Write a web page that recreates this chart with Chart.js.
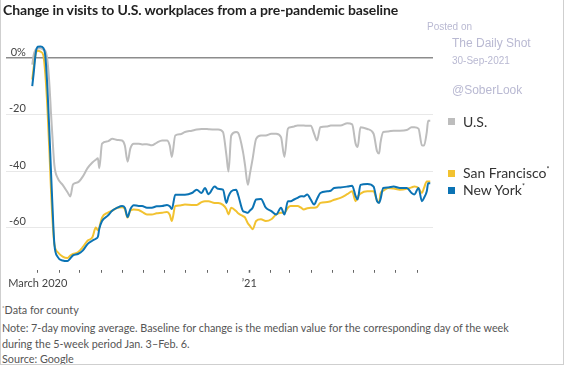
<!DOCTYPE html>
<html>
<head>
<meta charset="utf-8">
<script src="https://cdn.jsdelivr.net/npm/chart.js@4.4.0/dist/chart.umd.min.js"></script>
<style>
  body { margin: 0; background: #fff; overflow: hidden; }
  #wrap { position: relative; width: 564px; height: 365px; font-family: Lato, sans-serif; }
  #frame { position: absolute; inset: 0; border: 1px solid #cfcfcf; border-top: none; pointer-events: none; }
  #chartBox { position: absolute; left: 0; top: 0; width: 564px; height: 300px; }
  .abs { position: absolute; white-space: nowrap; }
  #title { left: 3px; top: 0; font-size: 14px; font-weight: 700; line-height: 20px; color: #222; letter-spacing: -0.12px; }
  .mark { font-family: "Liberation Sans", Arial, sans-serif; color: #b9b9d2; }
  .key { width: 7px; height: 7px; }
  .keyText { font-size: 14px; line-height: 18px; color: #333; }
  .keyText span { font-size: 7px; position: relative; top: -6px; }
  #notes { left: 2px; top: 302px; font-size: 10.8px; line-height: 15.8px; color: #555; }
  #notes span { font-size: 6px; position: relative; top: -4px; }
</style>
</head>
<body>
<div id="wrap">
  <div id="chartBox"><canvas id="visitsChart"></canvas></div>
  <div class="abs" id="title">Change in visits to U.S. workplaces from a pre-pandemic baseline</div>

  <div class="abs mark" style="left:427px; top:21px; font-size:10px; line-height:12px;">Posted on</div>
  <div class="abs mark" style="left:452px; top:36px; font-size:12px; line-height:14px;">The Daily Shot</div>
  <div class="abs mark" style="left:452px; top:55px; font-size:10px; line-height:12px;">30-Sep-2021</div>
  <div class="abs mark" style="left:452px; top:83px; font-size:12px; line-height:14px;">@SoberLook</div>

  <div class="abs key" style="left:448px; top:118px; background:#bdbdbd;"></div>
  <div class="abs keyText" style="left:463px; top:112.5px;">U.S.</div>
  <div class="abs key" style="left:448px; top:169.5px; background:#f2c230;"></div>
  <div class="abs keyText" style="left:463px; top:163.5px;">San Francisco<span>*</span></div>
  <div class="abs key" style="left:448px; top:187px; background:#0b73b4;"></div>
  <div class="abs keyText" style="left:463px; top:181px;">New York<span>*</span></div>

  <div class="abs" id="notes"><span>*</span>Data for county<br>Note: 7-day moving average. Baseline for change is the median value for the corresponding day of the week<br>during the 5-week period Jan. 3–Feb. 6.<br>Source: Google</div>
  <div id="frame"></div>
</div>

<script>
// days since March 1, 2020
const days = [
  -8, -6, -3, 0, 4, 8, 11, 14, 17, 19,
  21, 24, 29, 36, 43, 47, 51, 58, 65, 72,
  79, 84, 87, 89, 93, 101, 108, 115, 122, 126,
  130, 134, 139, 146, 151, 158, 165, 172, 180, 187,
  191, 194, 199, 206, 213, 223, 230, 237, 242, 247,
  256, 261, 268, 273, 276, 280, 287, 290, 297, 300,
  304, 307, 311, 316, 323, 330, 338, 345, 352, 357,
  362, 366, 371, 376, 381, 385, 390, 395, 400, 404,
  409, 419, 424, 429, 438, 448, 455, 460, 463, 467,
  477, 486, 491, 494, 496, 500, 507, 515, 524, 534,
  541, 545, 551, 556, 559, 563, 565, 568
];

const usValues = [
  -2.3, 1.0, 3.0, 3.4, 3.5, 3.0, 2.5, -1, -10, -19,
  -27, -37.9, -42.6, -44.9, -47.5, -49, -44.7, -44, -42, -39,
  -37, -36, -35.5, -39, -30.3, -29.5, -28.6, -29, -29.2, -31,
  -36.7, -32, -30.3, -30.3, -30.6, -30.5, -30.9, -30, -29.2, -29.2,
  -31, -35, -27.4, -27, -26.2, -25.7, -25.3, -25.1, -25.1, -25.2,
  -25.3, -25.3, -26.2, -34.4, -40.2, -27.4, -26.2, -26.5, -33.2, -38,
  -44.9, -41, -35.6, -28.6, -27.4, -27.4, -26.8, -26.8, -28, -35,
  -25, -24.5, -24.2, -23.9, -23.9, -23.9, -24, -24, -26.8, -29.2,
  -24.5, -24.2, -23.9, -23.9, -23.9, -23.1, -23.5, -30.3, -31.5, -24.5,
  -25.1, -26.8, -33, -33.8, -30, -26.2, -26, -25.7, -25.7, -25.5,
  -24.5, -24.5, -25, -30.9, -31, -26.2, -22.2, -22.2
];

const sfValues = [
  -7.6, -3.5, 1.5, 2.6, 2.3, 1.0, -6, -18, -34, -46,
  -56, -65.9, -68.8, -70.3, -70.8, -70, -69.4, -68.8, -67, -64.7,
  -63.5, -60, -61, -60, -56.5, -54.8, -54, -53, -52.8, -53.5,
  -56.5, -54, -53.6, -53.8, -54.5, -55.4, -55.4, -55, -54.8, -54.5,
  -55.5, -57.7, -52.4, -52.2, -51.9, -52, -52, -51, -50.7, -50.7,
  -51.3, -51.3, -52, -53.5, -55.4, -53, -54.2, -55, -56, -56.5,
  -58.5, -59.4, -60.6, -57.7, -57.1, -57.7, -57.1, -55.4, -54.8, -54.8,
  -53, -52.4, -52.4, -52.4, -53, -53.6, -53.2, -53, -53, -52.8,
  -51.3, -51, -50.7, -50.2, -49.5, -48.2, -47.2, -50.7, -49, -48,
  -47.2, -47.2, -50.5, -51.2, -48, -47, -46, -46.2, -46.6, -46.3,
  -45.8, -45.5, -46, -47.8, -46, -43.7, -43.7, -43.7
];

const nyValues = [
  -9.9, -5.5, 1.8, 4.0, 4.1, 3.6, 0.5, -11, -27.4, -39.5,
  -51, -65.9, -70.5, -71.7, -71.9, -71, -69.9, -69.4, -68.2, -65.9,
  -64.7, -64, -63.3, -60.5, -57.7, -55.9, -54, -53, -52.4, -53,
  -56.3, -53.5, -52.1, -52.4, -52.4, -53, -53, -52.5, -52.4, -52,
  -52.5, -53.5, -48.4, -48.4, -48.4, -47.8, -46.6, -47.8, -46, -48.2,
  -45.5, -46.3, -46.6, -51.3, -49, -47.2, -46.6, -48.5, -54.2, -54.5,
  -54.8, -54, -53, -50.1, -49.9, -53, -54.2, -55.4, -53, -55.4,
  -50.7, -50.7, -50.1, -49.5, -48.9, -49, -48.3, -50.1, -51.9, -50,
  -47.8, -47.2, -47, -46, -45.8, -45.5, -45.2, -48.9, -50.1, -44.9,
  -44.6, -45.5, -50.7, -51.3, -50, -46, -45.8, -45.5, -46, -46,
  -47.8, -48.3, -46, -50.7, -49.5, -47.2, -44.3, -44.3
];

const tickDates = [
  '2020-03-01', '2020-04-01', '2020-05-01', '2020-06-01', '2020-07-01',
  '2020-08-01', '2020-09-01', '2020-10-01', '2020-11-01', '2020-12-01',
  '2021-01-01', '2021-02-01', '2021-03-01', '2021-04-01', '2021-05-01',
  '2021-06-01', '2021-07-01', '2021-08-01', '2021-09-01'
];
const tickLabels = ['March 2020', '', '', '', '', '', '', '', '', '', '\u201921', '', '', '', '', '', '', '', ''];
const yTicks = [0, -20, -40, -60];

const startDay = Date.parse('2020-03-01T00:00:00Z');
const tickDays = tickDates.map(d => Math.round((Date.parse(d + 'T00:00:00Z') - startDay) / 864e5));

function toPoints(values) {
  return values.map((v, i) => ({ x: days[i], y: v }));
}

const axisFont = { family: 'Lato', size: 11 };

const context = document.getElementById('visitsChart');
const visitsChart = new Chart(context, {
  type: 'line',
  data: {
    datasets: [
      { label: 'U.S.', data: toPoints(usValues), borderColor: '#bdbdbd', order: 3 },
      { label: 'San Francisco', data: toPoints(sfValues), borderColor: '#f2c230', order: 2 },
      { label: 'New York', data: toPoints(nyValues), borderColor: '#0b73b4', order: 1 },
    ],
  },
  options: {
    responsive: true,
    maintainAspectRatio: false,
    animation: false,
    layout: { padding: { left: 0, right: 131, top: 44, bottom: 6 } },
    elements: {
      point: { radius: 0 },
      line: { borderWidth: 2, cubicInterpolationMode: 'monotone', borderJoinStyle: 'round' },
    },
    plugins: {
      legend: { display: false },
      tooltip: { enabled: false },
    },
    scales: {
      x: {
        type: 'linear',
        min: -46,
        max: 572,
        afterBuildTicks: axis => { axis.ticks = tickDays.map(v => ({ value: v })); },
        ticks: {
          autoSkip: false,
          maxRotation: 0,
          padding: 4,
          color: '#444',
          font: axisFont,
          callback: (value, index) => tickLabels[index],
        },
        grid: {
          drawOnChartArea: false,
          drawTicks: true,
          tickLength: 3,
          tickColor: '#666',
          tickWidth: ctx => (ctx.tick && ctx.tick.value === tickDays[10] ? 1.5 : 1),
        },
        border: { display: false },
      },
      y: {
        min: -75,
        max: 5,
        afterBuildTicks: axis => { axis.ticks = yTicks.map(v => ({ value: v })); },
        ticks: {
          mirror: true,
          padding: 3,
          crossAlign: 'far',
          labelOffset: -6,
          color: '#444',
          font: axisFont,
          callback: value => (value === 0 ? '0%' : String(value)),
        },
        grid: {
          drawTicks: false,
          color: ctx => (ctx.tick && ctx.tick.value === 0 ? '#8c8c8c' : '#e8e8e8'),
          lineWidth: ctx => (ctx.tick && ctx.tick.value === 0 ? 1.5 : 1),
        },
        border: { display: false },
      },
    },
  },
});
</script>
</body>
</html>
